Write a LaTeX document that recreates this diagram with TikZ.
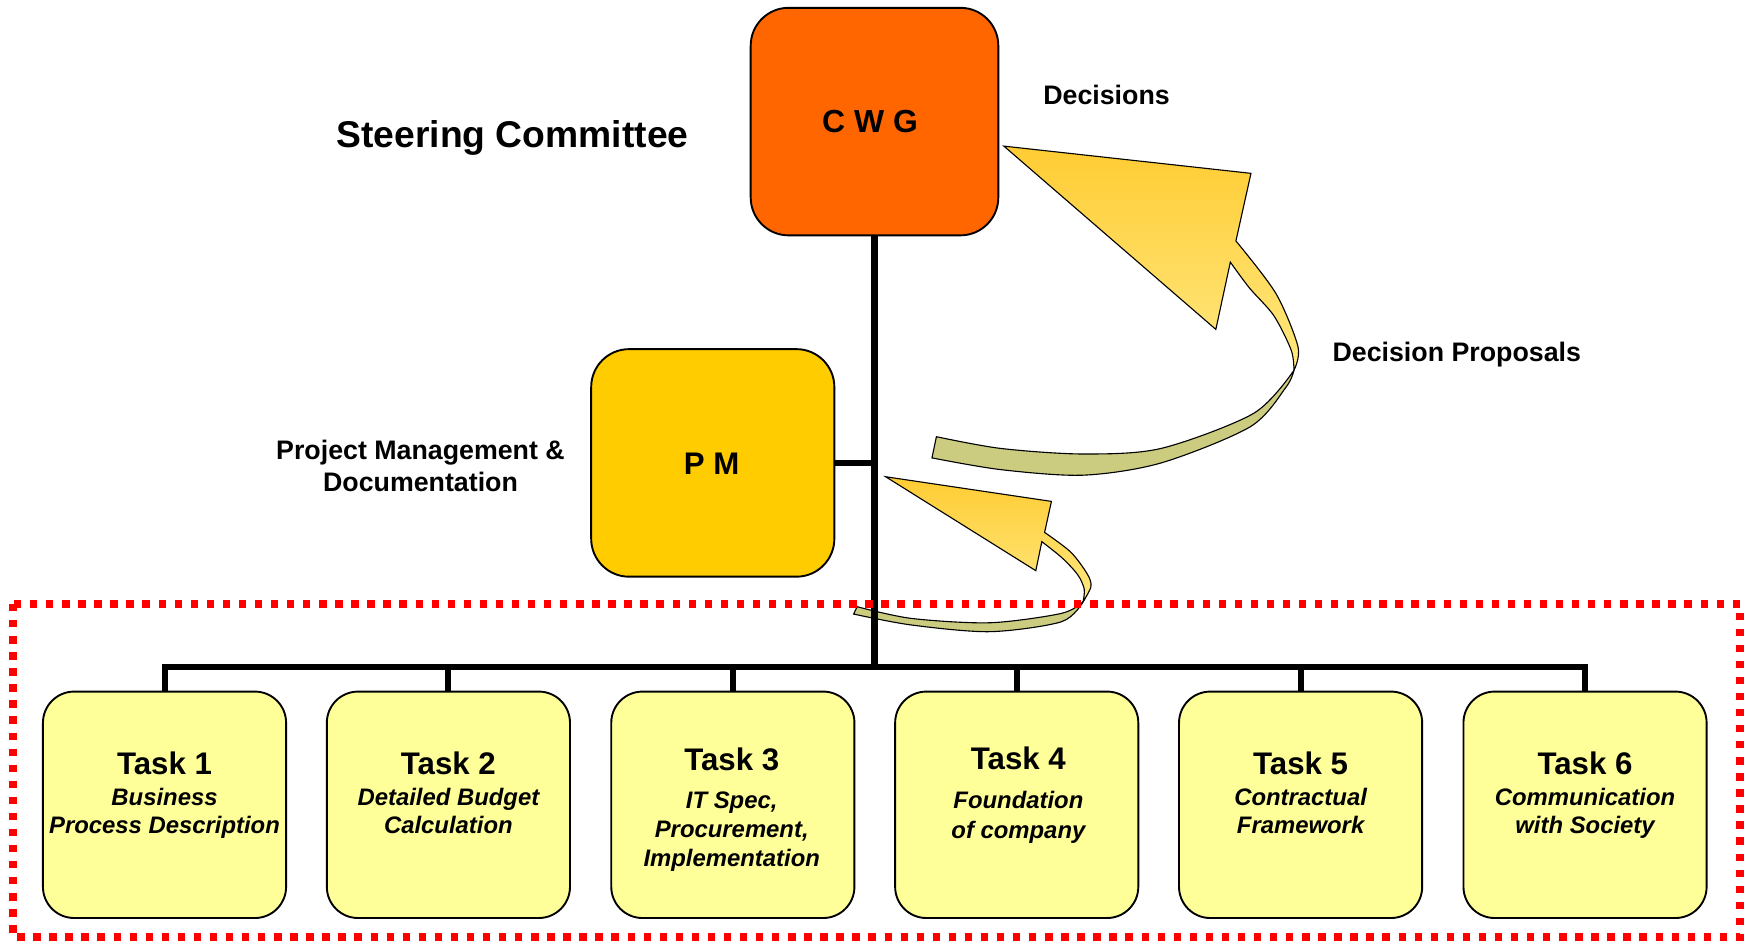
\documentclass[tikz,border=0pt]{standalone}
\usepackage{fontspec}
\setmainfont{Liberation Sans}
\definecolor{cwgorange}{RGB}{255,102,0}
\definecolor{pmgold}{RGB}{255,204,0}
\definecolor{taskyellow}{RGB}{255,255,153}
\definecolor{ribbonback}{RGB}{204,204,128}
\definecolor{headdark}{RGB}{255,204,51}
\definecolor{headlight}{RGB}{255,232,128}
\definecolor{framered}{RGB}{255,0,0}
\begin{document}
\begin{tikzpicture}[x=0.5pt,y=-0.5pt,
  bigbox/.style={draw=black,line width=0.85pt,rounded corners=17pt,
    minimum width=111pt,minimum height=102pt,inner sep=0pt},
  taskbox/.style={draw=black,line width=0.85pt,fill=taskyellow,rounded corners=14pt,
    minimum width=109pt,minimum height=101.5pt,inner sep=0pt},
  lbl/.style={inner sep=0pt,anchor=base,align=center,
    font=\fontsize{12}{14.5}\selectfont\bfseries},
  boxlbl/.style={inner sep=0pt,anchor=base,font=\fontsize{#1}{#1}\selectfont\bfseries},
  tasktext/.style={inner sep=0pt,anchor=base,align=center,
    font=\fontsize{10.7}{#1}\selectfont\bfseries\itshape},
  trunk/.style={line width=3pt},
  branch/.style={line width=2.7pt,line join=miter},
  headfill/.style={draw=black,line width=0.5pt,top color=headdark,bottom color=headlight},
  backfill/.style={draw=black,line width=0.5pt,fill=ribbonback}
]
\useasboundingbox (0,0) rectangle (1568,847);

% committee and management boxes
\node[bigbox,fill=cwgorange] (cwg) at (784,109) {};
\node[bigbox,fill=pmgold,minimum width=109pt] (pm) at (639,415) {};
\node[boxlbl=14.3] (cwgtext) at (780,119) {C W G};
\node[boxlbl=14] (pmtext) at (638,425) {P M};

% task boxes
\node[taskbox] (t1) at (147.5,721.5) {};
\node[taskbox] (t2) at (402,721.5) {};
\node[taskbox] (t3) at (657,721.5) {};
\node[taskbox] (t4) at (911.5,721.5) {};
\node[taskbox] (t5) at (1166,721.5) {};
\node[taskbox] (t6) at (1421,721.5) {};

% task captions (anchored on the baseline of their last line)
\node[tasktext=12.5] (t1text) at (147.5,747)
  {{\fontsize{14}{14}\selectfont\upshape Task 1}\\[1.35pt]Business\\Process Description};
\node[tasktext=12.5] (t2text) at (402,747)
  {{\fontsize{14}{14}\selectfont\upshape Task 2}\\[1.35pt]Detailed Budget\\Calculation};
\node[tasktext=13] (t3text) at (656,777)
  {{\fontsize{14}{14}\selectfont\upshape Task 3}\\[4.35pt]IT Spec,\\Procurement,\\Implementation};
\node[tasktext=13.5] (t4text) at (913,752)
  {{\fontsize{14}{14}\selectfont\upshape Task 4}\\[3.85pt]Foundation\\of company};
\node[tasktext=12.5] (t5text) at (1166,747)
  {{\fontsize{14}{14}\selectfont\upshape Task 5}\\[1.35pt]Contractual\\Framework};
\node[tasktext=12.5] (t6text) at (1421,747)
  {{\fontsize{14}{14}\selectfont\upshape Task 6}\\[1.35pt]Communication\\with Society};

% free labels
\node[lbl,font=\fontsize{16.7}{20}\selectfont\bfseries] (steer) at (459.5,132) {Steering Committee};
\node[lbl] (decisions) at (992,93.5) {Decisions};
\node[lbl] (proposals) at (1306,324.5) {Decision Proposals};
\node[lbl] (pmdoc) at (377,441) {Project Management \&\\Documentation};

% large curved arrow: proposals up to the committee
\filldraw[backfill] plot[smooth] coordinates
  {(1160,332) (1153,347) (1121,382.5) (1041,415) (971,426) (897,421) (835.5,410.5)}
  -- plot[smooth] coordinates
  {(839.5,391.5) (897,402) (971,407) (1041,402) (1124,370.5) (1160,332)} -- cycle;
\shadedraw[headfill] (900,131) -- (1121.5,155.4)
  -- plot[smooth] coordinates {(1108,216) (1143.8,263) (1163.7,311) (1160,332)}
  -- plot[smooth] coordinates {(1160,332) (1157.6,314) (1142,283) (1120,258) (1103,235)}
  -- (1090,295.3) -- cycle;

% small curved arrow: tasks up to project management
\filldraw[backfill] plot[smooth] coordinates
  {(971,539.4) (951.6,557.4) (887.6,566.3) (817,560.3) (765.3,550.5)}
  -- plot[smooth] coordinates
  {(768.4,543.9) (817,554.4) (887.6,558.3) (951.6,549.9) (971,539.4)} -- cycle;
\shadedraw[headfill] (794,427.4) -- (942.6,449.5)
  -- plot[smooth] coordinates {(936.5,477.3) (960,495) (975,515) (978,526) (971,539.4)}
  -- plot[smooth] coordinates {(971,539.4) (972,528) (966,515) (952,500) (934,485.6)}
  -- (928.6,511.6) -- cycle;

% organisation lines
\coordinate (hub) at (784,598);
\draw[trunk] (cwg.south) -- (hub);
\draw[branch] (pm.east) -- (pm.east -| hub);
\draw[branch] (t1.north) -- (t1.north |- hub) -- (t6.north |- hub) -- (t6.north);
\foreach \k in {2,...,5} \draw[branch] (t\k.north) -- (t\k.north |- hub);

% dotted frame round the task level
\draw[framered,line width=3.3pt,dash pattern=on 3.3pt off 3.9pt] (11.5,541.5) rectangle (1560,840);
\end{tikzpicture}
\end{document}
